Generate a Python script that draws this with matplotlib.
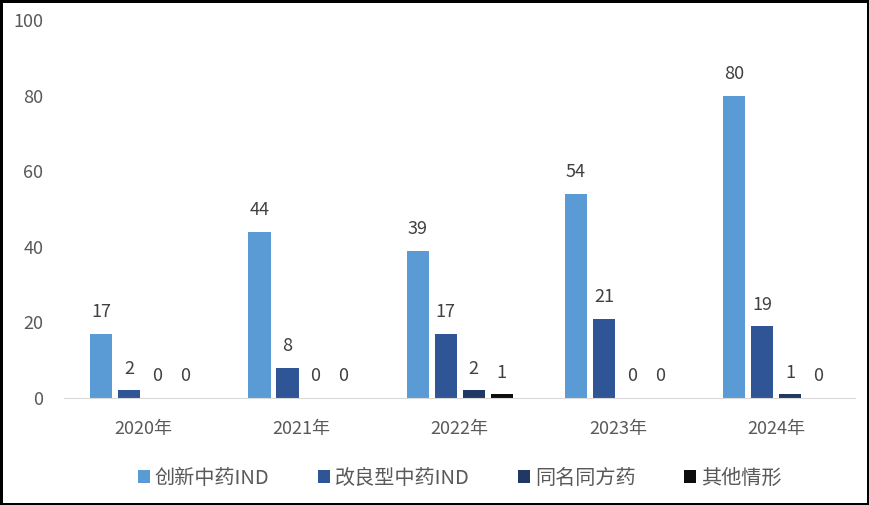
import matplotlib.pyplot as plt
import numpy as np

plt.rcParams['font.family'] = ['Noto Sans CJK SC', 'DejaVu Sans']

years = ["2020年", "2021年", "2022年", "2023年", "2024年"]
series_names = ["创新中药IND", "改良型中药IND", "同名同方药", "其他情形"]
innovative = [17, 44, 39, 54, 80]
improved = [2, 8, 17, 21, 19]
same_name = [0, 0, 2, 0, 1]
other = [0, 0, 1, 0, 0]
colors = ["#5B9BD5", "#2F5597", "#1F3864", "#0D0D0D"]

fig = plt.figure(figsize=(8.69, 5.05), dpi=100)
fig.patch.set_edgecolor("black")
fig.patch.set_linewidth(3.5)
ax = fig.add_axes([0.074, 0.212, 0.91, 0.748])

x = np.arange(len(years))
width = 0.14
step = 0.177
offsets = [-1.5 * step, -0.5 * step, 0.5 * step, 1.5 * step]
for vals, name, c, off in zip([innovative, improved, same_name, other], series_names, colors, offsets):
    bars = ax.bar(x + off, vals, width, color=c, label=name)
    for b, v in zip(bars, vals):
        ax.text(b.get_x() + b.get_width() / 2, v + 3.3, str(v), ha="center", va="bottom",
                fontsize=13, color="#404040")

ax.set_xlim(-0.5, 4.5)
ax.set_ylim(0, 100)
ax.set_yticks(range(0, 101, 20))
ax.set_xticks(x)
ax.set_xticklabels(years)
ax.tick_params(axis="both", length=0, labelsize=13, labelcolor="#595959")
ax.tick_params(axis="x", pad=16)
ax.tick_params(axis="y", pad=15)
for s in ["top", "right", "left"]:
    ax.spines[s].set_visible(False)
ax.spines["bottom"].set_color("#D9D9D9")

ax.legend(loc="center", bbox_to_anchor=(0.5, -0.213), ncol=4, frameon=False,
          fontsize=14.5, handlelength=0.6, handleheight=0.6, handletextpad=0.25,
          columnspacing=2.4, labelcolor="#595959")

fig.savefig("out.png", dpi=100)
